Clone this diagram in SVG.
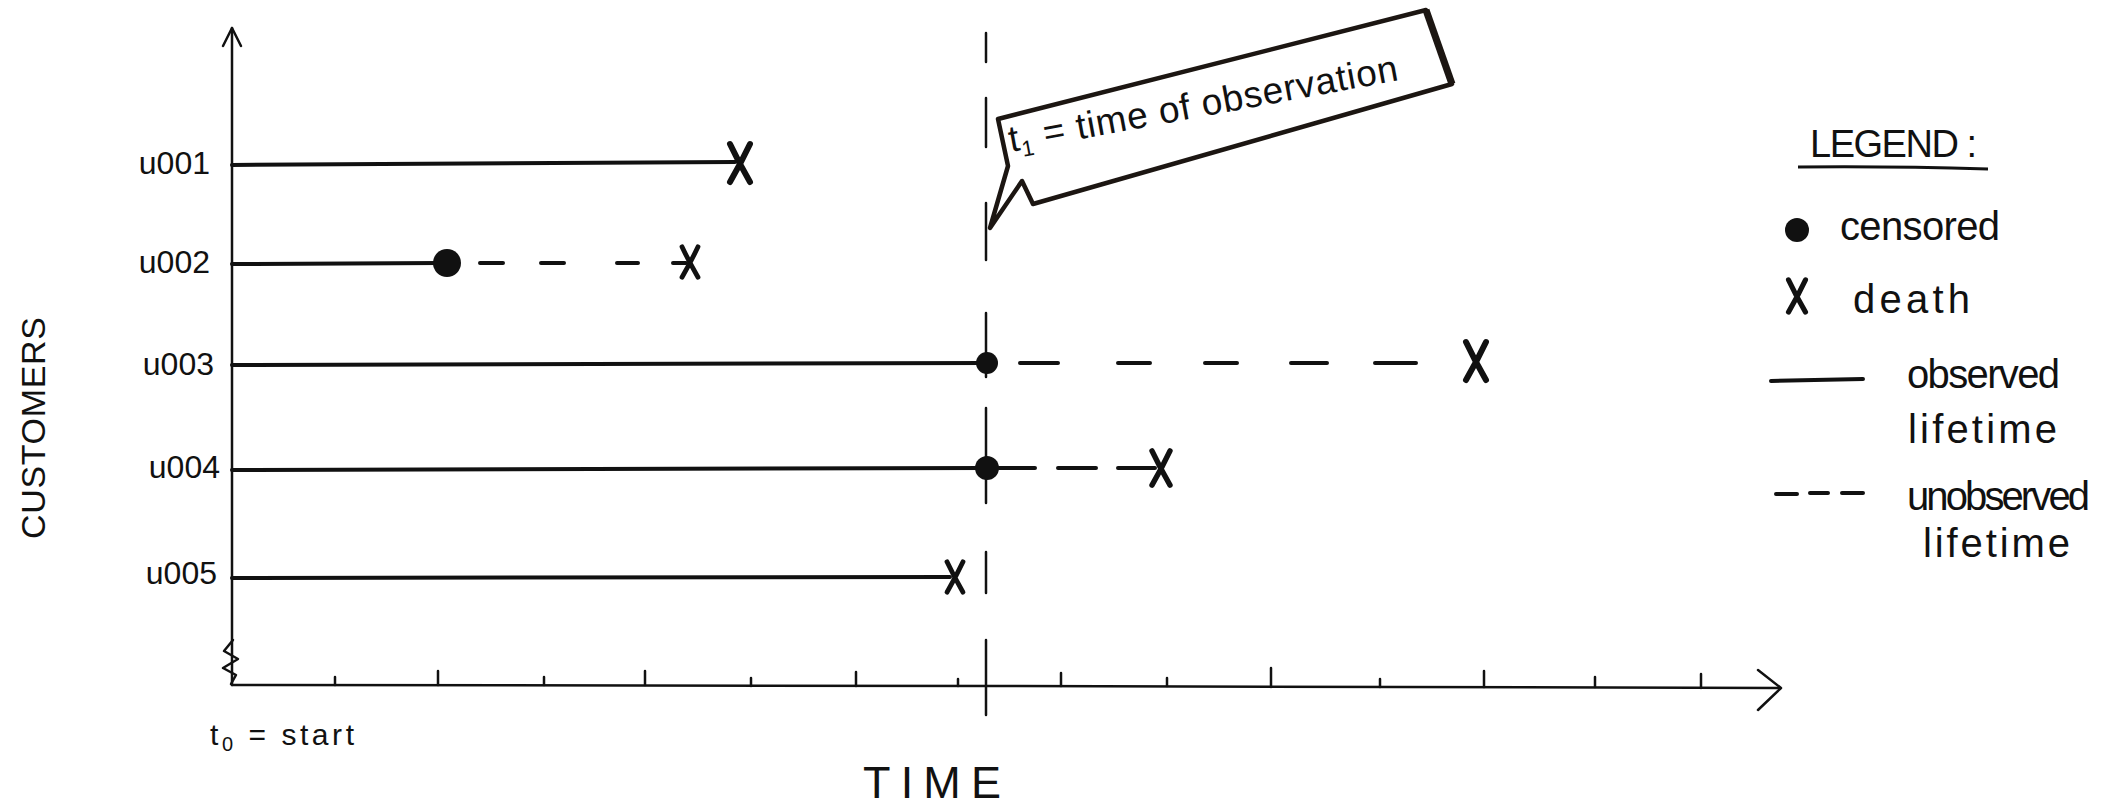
<svg xmlns="http://www.w3.org/2000/svg" width="2115" height="804" viewBox="0 0 2115 804">
<style>
  text { font-family: "Liberation Sans", "DejaVu Sans", sans-serif; fill: #111; }
  .axis { stroke: #111; stroke-width: 2.5; fill: none; stroke-linecap: round; stroke-linejoin: round; }
  .tick { stroke: #111; stroke-width: 2.5; stroke-linecap: round; }
  .life { stroke: #111; stroke-width: 4; fill: none; stroke-linecap: round; }
  .t1 { stroke: #111; stroke-width: 2.5; stroke-linecap: round; fill: none; }
  .dot { fill: #111; }
  .death { stroke: #111; stroke-width: 6; stroke-linecap: round; fill: none; }
  .lbl { font-size: 32px; text-anchor: end; }
  .leg { font-size: 40px; }
  .bubble { fill: #fff; stroke: #1c1612; stroke-width: 4.5; stroke-linejoin: round; }
</style>
<defs>
  <g id="xmark"><path class="death" d="M-10,-19 Q-1,0 10,19 M10,-19 Q1,0 -10,19"/></g>
</defs>

<g id="axes">
  <path class="axis" d="M232,28 L232,685"/>
  <path class="axis" d="M223,46 L232,28 L241,46"/>
  <path class="axis" d="M232,685 L1000,686 L1779,688"/>
  <path class="axis" d="M1758,670 L1781,688 L1758,710"/>
  <path class="axis" stroke-width="3.5" d="M233,640 L224,651 L238,659 L223,668 L236,675 L231,684"/>
  <g id="ticks">
    <line class="tick" x1="335" y1="685" x2="335" y2="677"/>
    <line class="tick" x1="438" y1="685" x2="438" y2="671"/>
    <line class="tick" x1="544" y1="685" x2="544" y2="677"/>
    <line class="tick" x1="645" y1="685" x2="645" y2="671"/>
    <line class="tick" x1="751" y1="686" x2="751" y2="678"/>
    <line class="tick" x1="856" y1="686" x2="856" y2="672"/>
    <line class="tick" x1="958" y1="686" x2="958" y2="679"/>
    <line class="tick" x1="1061" y1="686" x2="1061" y2="673"/>
    <line class="tick" x1="1167" y1="686" x2="1167" y2="678"/>
    <line class="tick" x1="1271" y1="687" x2="1271" y2="668"/>
    <line class="tick" x1="1380" y1="687" x2="1380" y2="679"/>
    <line class="tick" x1="1484" y1="687" x2="1484" y2="671"/>
    <line class="tick" x1="1595" y1="687" x2="1595" y2="677"/>
    <line class="tick" x1="1701" y1="688" x2="1701" y2="674"/>
  </g>
  <text id="ylabel" transform="translate(45,428) rotate(-90)" font-size="34" text-anchor="middle" textLength="222" lengthAdjust="spacing">CUSTOMERS</text>
  <text id="xlabel" x="863" y="798" font-size="45" textLength="138" lengthAdjust="spacing">TIME</text>
  <text id="t0" x="210" y="745" font-size="30" textLength="144" lengthAdjust="spacing">t<tspan font-size="20" dy="6">0</tspan><tspan dy="-6"> = start</tspan></text>
</g>

<g id="t1-line">
  <path class="t1" d="M986,33 V62 M986,98 V147 M986,203 V260 M986,313 V377 M986,408 V503 M986,552 V593 M986,640 V715"/>
</g>

<g id="callout">
  <path class="bubble" d="M998,119 L1426,10 L1452,84 L1033,204 L1022,181 L990,228 L1008,166 Z"/>
  <path d="M1426,10 L1452,84" stroke="#1c1612" stroke-width="7" fill="none"/>
  <text transform="translate(1011,152) rotate(-10.5)" font-size="37" textLength="395" lengthAdjust="spacing">t<tspan font-size="22" dy="7">1</tspan><tspan dy="-7"> = time of observation</tspan></text>
</g>

<g id="connectors">
  <path class="life" d="M232,165 L735,162"/>
  <path class="life" d="M232,264 L440,263"/>
  <path class="life" d="M480,263 H503 M541,263 H564 M617,263 H638 M673,263 H686"/>
  <path class="life" d="M232,365 L987,363"/>
  <path class="life" d="M1020,363 H1058 M1118,363 H1150 M1205,363 H1237 M1291,363 H1327 M1375,363 H1416"/>
  <path class="life" d="M232,470 L987,468"/>
  <path class="life" d="M999,468 H1035 M1058,468 H1096 M1118,468 H1155"/>
  <path class="life" d="M232,578 L950,577"/>
</g>

<g id="u001">
  <text class="lbl" x="210" y="174">u001</text>
  <use href="#xmark" transform="translate(740,163)"/>
</g>
<g id="u002">
  <text class="lbl" x="210" y="273">u002</text>
  <circle class="dot" cx="447" cy="263" r="14"/>
  <use href="#xmark" transform="translate(690,262) scale(0.8)"/>
</g>
<g id="u003">
  <text class="lbl" x="214" y="375">u003</text>
  <circle class="dot" cx="987" cy="363" r="11"/>
  <use href="#xmark" transform="translate(1476,361)"/>
</g>
<g id="u004">
  <text class="lbl" x="220" y="478">u004</text>
  <circle class="dot" cx="987" cy="468" r="12"/>
  <use href="#xmark" transform="translate(1161,468) scale(0.9)"/>
</g>
<g id="u005">
  <text class="lbl" x="217" y="584">u005</text>
  <use href="#xmark" transform="translate(955,577) scale(0.8)"/>
</g>

<g id="legend">
  <text x="1810" y="157" font-size="38" textLength="167" lengthAdjust="spacing">LEGEND :</text>
  <path d="M1798,167 Q1890,166 1988,169" stroke="#111" stroke-width="3" fill="none"/>
  <g id="leg-censored">
    <circle class="dot" cx="1797" cy="230" r="12"/>
    <text class="leg" x="1840" y="240" textLength="160" lengthAdjust="spacing">censored</text>
  </g>
  <g id="leg-death">
    <use href="#xmark" transform="translate(1797,296) scale(0.85)"/>
    <text class="leg" x="1853" y="313" font-size="44" textLength="117" lengthAdjust="spacing">death</text>
  </g>
  <g id="leg-observed">
    <path class="life" d="M1771,381 L1863,379"/>
    <text class="leg" x="1907" y="388" textLength="153" lengthAdjust="spacing">observed</text>
    <text class="leg" x="1908" y="443" textLength="149" lengthAdjust="spacing">lifetime</text>
  </g>
  <g id="leg-unobserved">
    <path class="life" d="M1776,494 H1797 M1810,493 H1828 M1842,493 H1863"/>
    <text class="leg" x="1907" y="510" textLength="183" lengthAdjust="spacing">unobserved</text>
    <text class="leg" x="1923" y="557" textLength="147" lengthAdjust="spacing">lifetime</text>
  </g>
</g>
</svg>
